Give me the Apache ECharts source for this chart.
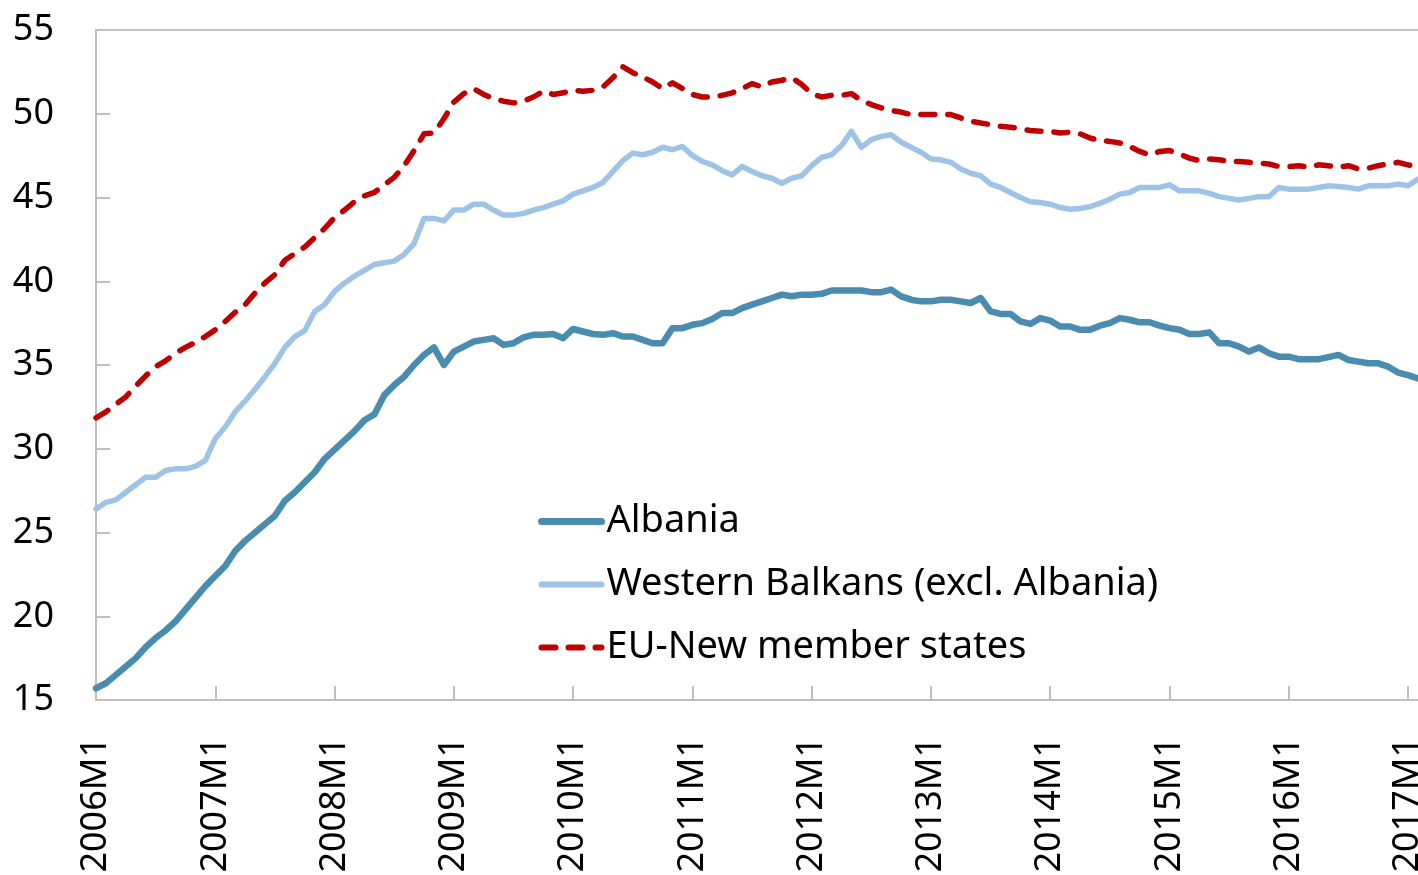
<!DOCTYPE html>
<html>
<head>
<meta charset="utf-8">
<script src="https://cdn.jsdelivr.net/npm/echarts@6/dist/echarts.min.js"></script>
<style>html,body{margin:0;padding:0;background:#fff;overflow:hidden}#c{width:1418px;height:875px}</style>
</head>
<body>
<div id="c"></div>
<script>
// Monthly categories 2006M1 .. 2017M2
const startYear = 2006, endYear = 2017, lastMonthOfEndYear = 2;
const categories = [];
for (let y = startYear; y <= endYear; y++) {
  for (let m = 1; m <= 12; m++) {
    if (y === endYear && m > lastMonthOfEndYear) break;
    categories.push(y + 'M' + m);
  }
}
const yTicks = [15, 20, 25, 30, 35, 40, 45, 50, 55];

const albania = [
  15.7, 16.0, 16.5, 17.0, 17.5, 18.15, 18.7, 19.15, 19.7, 20.4, 21.1, 21.8,
  22.4, 23.0, 23.9, 24.5, 25.0, 25.5, 26.0, 26.9, 27.4, 28.0, 28.6, 29.4,
  29.95, 30.5, 31.05, 31.7, 32.05, 33.2, 33.8, 34.3, 35.0, 35.6, 36.05, 35.0,
  35.8, 36.1, 36.4, 36.5, 36.6, 36.2, 36.3, 36.65, 36.8, 36.8, 36.85, 36.6,
  37.15, 37.0, 36.85, 36.8, 36.9, 36.7, 36.7, 36.5, 36.3, 36.3, 37.2, 37.2,
  37.4, 37.5, 37.75, 38.1, 38.1, 38.4, 38.6, 38.8, 39.0, 39.2, 39.1, 39.2,
  39.2, 39.25, 39.45, 39.45, 39.45, 39.45, 39.35, 39.35, 39.5, 39.1, 38.9, 38.8,
  38.8, 38.9, 38.9, 38.8, 38.7, 39.0, 38.2, 38.05, 38.05, 37.6, 37.45, 37.8,
  37.65, 37.3, 37.3, 37.1, 37.1, 37.35, 37.5, 37.8, 37.7, 37.55, 37.55, 37.35,
  37.2, 37.1, 36.85, 36.85, 36.95, 36.3, 36.3, 36.1, 35.8, 36.05, 35.7, 35.5,
  35.5, 35.35, 35.35, 35.35, 35.47, 35.6, 35.3, 35.2, 35.1, 35.1, 34.9, 34.55,
  34.4, 34.2
];
const westernBalkans = [
  26.4, 26.8, 26.95, 27.4, 27.85, 28.3, 28.3, 28.7, 28.8, 28.8, 28.95, 29.3,
  30.6, 31.3, 32.2, 32.85, 33.55, 34.3, 35.1, 36.05, 36.7, 37.05, 38.2, 38.6,
  39.4, 39.9, 40.3, 40.65, 41.0, 41.1, 41.2, 41.6, 42.25, 43.75, 43.75, 43.6,
  44.25, 44.25, 44.6, 44.6, 44.25, 43.95, 43.95, 44.05, 44.25, 44.4, 44.6, 44.8,
  45.2, 45.4, 45.6, 45.9, 46.55, 47.2, 47.65, 47.55, 47.7, 48.0, 47.85, 48.05,
  47.5, 47.15, 46.95, 46.6, 46.35, 46.85, 46.55, 46.3, 46.15, 45.85, 46.15, 46.3,
  46.9, 47.4, 47.55, 48.1, 48.95, 48.0, 48.45, 48.65, 48.75, 48.3, 48.0, 47.7,
  47.3, 47.25, 47.1, 46.7, 46.45, 46.3, 45.8, 45.6, 45.3, 45.0, 44.75, 44.7,
  44.6, 44.4, 44.3, 44.35, 44.45, 44.65, 44.9, 45.2, 45.3, 45.6, 45.6, 45.6,
  45.75, 45.4, 45.4, 45.4, 45.25, 45.05, 44.95, 44.85, 44.95, 45.05, 45.05, 45.6,
  45.5, 45.5, 45.5, 45.6, 45.7, 45.65, 45.6, 45.5, 45.7, 45.7, 45.7, 45.8,
  45.7, 46.1
];
const euNew = [
  31.85, 32.2, 32.65, 33.1, 33.75, 34.35, 34.9, 35.25, 35.7, 36.05, 36.35, 36.7,
  37.1, 37.6, 38.15, 38.6, 39.3, 39.9, 40.4, 41.25, 41.65, 42.05, 42.6, 43.15,
  43.8, 44.25, 44.75, 45.1, 45.3, 45.75, 46.2, 46.9, 47.8, 48.8, 48.85, 49.7,
  50.7, 51.2, 51.5, 51.15, 50.9, 50.75, 50.65, 50.75, 51.0, 51.35, 51.15, 51.25,
  51.4, 51.35, 51.4, 51.6, 52.15, 52.8, 52.45, 52.2, 51.9, 51.5, 51.85, 51.5,
  51.15, 51.0, 51.0, 51.1, 51.25, 51.5, 51.8, 51.6, 51.9, 52.0, 52.15, 51.75,
  51.2, 51.0, 51.1, 51.1, 51.2, 50.8, 50.55, 50.35, 50.2, 50.1, 49.95, 49.95,
  49.95, 49.95, 49.95, 49.75, 49.55, 49.45, 49.35, 49.25, 49.2, 49.1, 49.0, 48.95,
  48.95, 48.85, 48.9, 48.8, 48.55, 48.4, 48.35, 48.25, 48.05, 47.75, 47.55, 47.75,
  47.8, 47.6, 47.35, 47.2, 47.3, 47.25, 47.15, 47.15, 47.1, 47.05, 47.0, 46.85,
  46.85, 46.9, 46.8, 46.95, 46.9, 46.8, 46.9, 46.7, 46.75, 46.9, 47.0, 47.1,
  46.95, 46.8
];
const seriesNames = ['Albania', 'Western Balkans (excl. Albania)', 'EU-New member states'];

const FONT = '"Noto Sans", "Open Sans", sans-serif';
const AXIS_COLOR = '#BFBFBF';
const COLORS = ['#4A8CB0', '#9DC3E6', '#C00000'];
const isYearStart = (idx) => idx % 12 === 0;

const chart = echarts.init(document.getElementById('c'), null, {renderer: 'canvas', width: 1418, height: 875});
chart.setOption({
  animation: false,
  backgroundColor: '#ffffff',
  grid: {left: 96, right: 0, top: 30, bottom: 175, containLabel: false, outerBoundsMode: 'none'},
  legend: {
    orient: 'vertical',
    left: 538,
    top: 501,
    padding: 0,
    itemWidth: 60,
    itemHeight: 14,
    itemGap: 22,
    itemStyle: {opacity: 0},
    textStyle: {fontFamily: FONT, fontSize: 38, color: '#000', lineHeight: 41},
    data: [
      {name: seriesNames[0], itemStyle: {opacity: 0}, lineStyle: {color: COLORS[0], width: 7, cap: 'round'}},
      {name: seriesNames[1], itemStyle: {opacity: 0}, lineStyle: {color: COLORS[1], width: 6, cap: 'round'}},
      {name: seriesNames[2], itemStyle: {opacity: 0}, lineStyle: {color: COLORS[2], width: 6, type: [14, 13], cap: 'round'}}
    ]
  },
  xAxis: [{
    type: 'category',
    data: categories,
    boundaryGap: false,
    axisLine: {show: true, lineStyle: {color: AXIS_COLOR, width: 2}},
    axisTick: {show: true, inside: true, length: 14, interval: (i) => isYearStart(i), lineStyle: {color: AXIS_COLOR, width: 2}},
    axisLabel: {
      interval: (i) => isYearStart(i),
      rotate: 90,
      margin: 37,
      fontFamily: FONT,
      fontSize: 36,
      color: '#000',
      hideOverlap: false
    },
    splitLine: {show: false}
  }, {
    type: 'category',
    position: 'top',
    data: categories,
    boundaryGap: false,
    axisLine: {show: true, lineStyle: {color: AXIS_COLOR, width: 2}},
    axisTick: {show: false},
    axisLabel: {show: false},
    splitLine: {show: false}
  }],
  yAxis: {
    type: 'value',
    min: yTicks[0],
    max: yTicks[yTicks.length - 1],
    interval: 5,
    axisLine: {show: true, lineStyle: {color: AXIS_COLOR, width: 2}},
    axisTick: {show: true, inside: true, length: 14, lineStyle: {color: AXIS_COLOR, width: 2}},
    axisLabel: {margin: 42, fontFamily: FONT, fontSize: 36, color: '#000'},
    splitLine: {show: false}
  },
  series: [
    {
      name: seriesNames[0], type: 'line', data: albania, symbol: 'none', z: 3,
      lineStyle: {color: COLORS[0], width: 6.5, cap: 'round', join: 'round'},
      itemStyle: {color: COLORS[0]}
    },
    {
      name: seriesNames[1], type: 'line', data: westernBalkans, symbol: 'none', z: 2,
      lineStyle: {color: COLORS[1], width: 5.5, cap: 'round', join: 'round'},
      itemStyle: {color: COLORS[1]}
    },
    {
      name: seriesNames[2], type: 'line', data: euNew, symbol: 'none', z: 4,
      lineStyle: {color: COLORS[2], width: 5.5, type: [14, 13], cap: 'round', join: 'round'},
      itemStyle: {color: COLORS[2]}
    }
  ]
});
</script>
</body>
</html>
